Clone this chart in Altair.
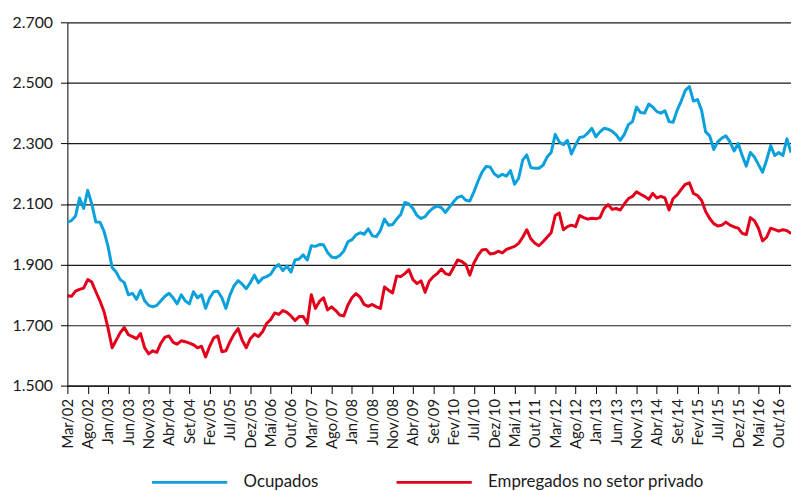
import altair as alt
import pandas as pd

month_abbr = ["Jan", "Fev", "Mar", "Abr", "Mai", "Jun", "Jul", "Ago", "Set", "Out", "Nov", "Dez"]
start_year = 2002
start_month = 3

ocupados = [
    2040, 2045, 2060, 2120, 2085, 2145, 2100, 2040, 2040, 2010,
    1960, 1890, 1875, 1850, 1840, 1800, 1805, 1785, 1815, 1780,
    1765, 1760, 1765, 1780, 1795, 1805, 1790, 1770, 1800, 1780,
    1770, 1810, 1790, 1800, 1755, 1790, 1810, 1812, 1790, 1755,
    1800, 1830, 1847, 1835, 1820, 1840, 1865, 1840, 1855, 1860,
    1868, 1889, 1900, 1880, 1895, 1875, 1915, 1918, 1932, 1915,
    1962, 1960, 1966, 1965, 1940, 1925, 1922, 1930, 1945, 1975,
    1982, 1998, 2005, 2000, 2018, 1995, 1992, 2012, 2050, 2030,
    2032, 2050, 2065, 2105, 2100, 2085, 2062, 2052, 2058, 2075,
    2087, 2093, 2088, 2072, 2090, 2107, 2122, 2126, 2112, 2110,
    2140, 2175, 2205, 2224, 2222, 2200, 2190, 2198, 2192, 2210,
    2165, 2185, 2245, 2262, 2220, 2218, 2218, 2228, 2255, 2270,
    2330, 2305, 2296, 2310, 2265, 2295, 2320, 2322, 2334, 2350,
    2322, 2338, 2350, 2347, 2340, 2328, 2310, 2330, 2362, 2372,
    2420, 2402, 2400, 2430, 2420, 2405, 2400, 2408, 2372, 2370,
    2410, 2440, 2475, 2488, 2440, 2445, 2410, 2338, 2325, 2280,
    2305, 2318, 2325, 2305, 2275, 2300, 2260, 2225, 2270, 2255,
    2230, 2205, 2245, 2293, 2260, 2270, 2260, 2315, 2270,
]

empregados = [
    1797, 1795, 1812, 1818, 1822, 1850, 1842, 1810, 1780, 1745,
    1690, 1625, 1650, 1675, 1692, 1668, 1662, 1655, 1672, 1625,
    1605, 1615, 1610, 1640, 1660, 1664, 1643, 1637, 1648, 1645,
    1640, 1635, 1625, 1630, 1595, 1630, 1658, 1664, 1612, 1615,
    1645, 1670, 1688, 1650, 1625, 1655, 1670, 1662, 1678, 1705,
    1718, 1740, 1735, 1748, 1742, 1730, 1715, 1728, 1728, 1705,
    1800, 1755, 1778, 1790, 1750, 1760, 1748, 1733, 1730, 1766,
    1790, 1804, 1792, 1768, 1762, 1768, 1760, 1755, 1826, 1815,
    1806, 1862, 1860, 1870, 1883, 1850, 1837, 1846, 1808, 1845,
    1860, 1870, 1885, 1870, 1866, 1890, 1915, 1910, 1900, 1865,
    1905, 1930, 1948, 1950, 1935, 1937, 1944, 1938, 1950, 1955,
    1960, 1970, 1990, 2015, 1985, 1970, 1962, 1975, 1990, 2005,
    2062, 2070, 2015, 2025, 2030, 2025, 2062, 2055, 2050, 2053,
    2051, 2055, 2085, 2098, 2082, 2085, 2080, 2100, 2118, 2125,
    2140, 2132, 2125, 2115, 2135, 2120, 2125, 2120, 2080, 2118,
    2130, 2148, 2165, 2170, 2135, 2128, 2112, 2075, 2052, 2035,
    2027, 2030, 2040, 2030, 2024, 2020, 2003, 1999, 2055, 2045,
    2020, 1978, 1990, 2020, 2015, 2010, 2015, 2012, 2002,
]

series_names = ["Ocupados", "Empregados no setor privado"]
series_colors = ["#0aa0dc", "#e2001a"]
y_ticks = [1500, 1700, 1900, 2100, 2300, 2500, 2700]

n = len(ocupados)
meses = []
for k in range(n):
    m = (start_month - 1 + k) % 12
    yr = start_year + (start_month - 1 + k) // 12
    meses.append(f"{month_abbr[m]}/{yr % 100:02d}")

rows = []
for name, vals in zip(series_names, [ocupados, empregados]):
    for mes, v in zip(meses, vals):
        rows.append({"mes": mes, "serie": name, "valor": v})
df = pd.DataFrame(rows)

FONT = "Lato"

chart = alt.Chart(df).mark_line(strokeWidth=3, strokeJoin="round").encode(
    x=alt.X(
        "mes:O",
        sort=meses,
        scale=alt.Scale(type="point", padding=0),
        axis=alt.Axis(
            values=meses[::5],
            labelAngle=-90,
            title=None,
            grid=False,
            domainColor="#000000",
            tickColor="#000000",
            tickSize=8,
            labelPadding=5,
            labelFontSize=15,
            labelFont=FONT,
            labelColor="#1a1a1a",
        ),
    ),
    y=alt.Y(
        "valor:Q",
        scale=alt.Scale(domain=[1500, 2700], nice=False, zero=False),
        axis=alt.Axis(
            values=y_ticks,
            title=None,
            grid=True,
            gridColor="#1a1a1a",
            gridWidth=1.2,
            domainColor="#000000",
            tickColor="#000000",
            tickSize=7,
            labelPadding=8,
            labelFontSize=16,
            labelFont=FONT,
            labelColor="#1a1a1a",
            labelExpr="replace(format(datum.value, ',d'), ',', '.')",
        ),
    ),
    color=alt.Color(
        "serie:N",
        sort=series_names,
        scale=alt.Scale(domain=series_names, range=series_colors),
        legend=alt.Legend(
            title=None,
            orient="none",
            legendX=84,
            legendY=425,
            direction="horizontal",
            symbolType="stroke",
            symbolSize=5776,
            symbolStrokeWidth=3,
            labelFontSize=17,
            labelFont=FONT,
            labelColor="#1a1a1a",
            labelOffset=15,
            labelLimit=400,
            columnPadding=72,
            padding=0,
        ),
    ),
).properties(
    width=731,
    height=367,
    autosize=alt.AutoSizeParams(type="none"),
    padding={"left": 60, "top": 12, "right": 0, "bottom": 104},
).configure_view(stroke=None)

chart.save("out.html", embed_options={"renderer": "svg", "actions": False})
